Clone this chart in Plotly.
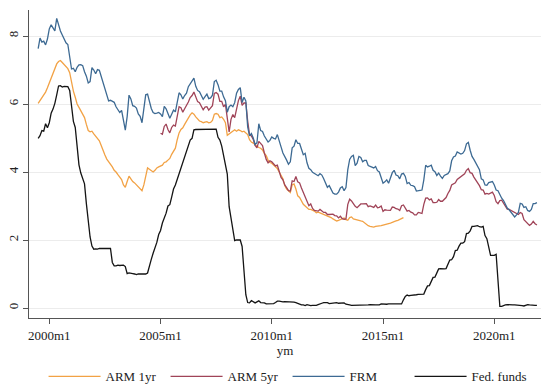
import plotly.graph_objects as go

# Monthly series, each listed from its first month onward
FED_START = (1999, 7)
FRM_START = (1999, 7)
ARM1_START = (1999, 7)
ARM5_START = (2005, 1)

fed_funds = [
    4.99, 5.07, 5.22, 5.20, 5.42, 5.30,
    5.45, 5.73, 5.85, 6.02, 6.27, 6.53, 6.54, 6.50, 6.52, 6.51, 6.51, 6.40,
    5.98, 5.49, 5.31, 4.80, 4.21, 3.97, 3.77, 3.65, 3.07, 2.49, 2.09, 1.82,
    1.73, 1.74, 1.73, 1.75, 1.75, 1.75, 1.73, 1.74, 1.75, 1.75, 1.34, 1.24,
    1.24, 1.26, 1.25, 1.26, 1.26, 1.22, 1.01, 1.03, 1.01, 1.01, 1.00, 0.98,
    1.00, 1.01, 1.00, 1.00, 1.00, 1.03, 1.26, 1.43, 1.61, 1.76, 1.93, 2.16,
    2.28, 2.50, 2.63, 2.79, 3.00, 3.04, 3.26, 3.50, 3.62, 3.78, 4.00, 4.16,
    4.29, 4.49, 4.59, 4.79, 4.94, 4.99, 5.24, 5.25, 5.25, 5.25, 5.25, 5.24,
    5.25, 5.26, 5.26, 5.25, 5.25, 5.25, 5.26, 5.02, 4.94, 4.76, 4.49, 4.24,
    3.94, 2.98, 2.61, 2.28, 1.98, 2.00, 2.01, 2.00, 1.81, 0.97, 0.39, 0.16,
    0.15, 0.22, 0.18, 0.15, 0.18, 0.21, 0.16, 0.16, 0.15, 0.12, 0.12, 0.12,
    0.11, 0.13, 0.16, 0.20, 0.20, 0.18, 0.18, 0.19, 0.19, 0.19, 0.19, 0.18,
    0.17, 0.16, 0.14, 0.10, 0.09, 0.09, 0.07, 0.10, 0.08, 0.07, 0.08, 0.07,
    0.08, 0.10, 0.13, 0.14, 0.16, 0.16, 0.16, 0.13, 0.14, 0.16, 0.16, 0.16,
    0.14, 0.15, 0.14, 0.15, 0.11, 0.09, 0.09, 0.08, 0.08, 0.09, 0.08, 0.09,
    0.07, 0.07, 0.08, 0.09, 0.09, 0.10, 0.09, 0.09, 0.09, 0.09, 0.09, 0.12,
    0.11, 0.11, 0.11, 0.12, 0.12, 0.13, 0.13, 0.14, 0.14, 0.12, 0.12, 0.24,
    0.34, 0.38, 0.36, 0.37, 0.37, 0.38, 0.39, 0.40, 0.40, 0.40, 0.41, 0.54,
    0.65, 0.66, 0.79, 0.90, 0.91, 1.04, 1.15, 1.16, 1.15, 1.15, 1.16, 1.30,
    1.41, 1.42, 1.51, 1.69, 1.70, 1.82, 1.91, 1.91, 1.95, 2.19, 2.20, 2.27,
    2.40, 2.40, 2.41, 2.42, 2.39, 2.38, 2.40, 2.13, 2.04, 1.83, 1.55, 1.55,
    1.55, 1.58, 0.65, 0.05, 0.05, 0.08, 0.09, 0.10, 0.09, 0.09, 0.09, 0.09,
    0.09, 0.08, 0.07, 0.07, 0.06, 0.08, 0.10, 0.09, 0.08, 0.08, 0.08, 0.08,
]

frm = [
    7.63, 7.94, 7.82, 7.85, 7.74, 7.91,
    8.21, 8.33, 8.24, 8.15, 8.52, 8.29, 8.15, 8.03, 7.91, 7.80, 7.75, 7.38,
    7.03, 7.05, 6.95, 7.08, 7.15, 7.16, 7.13, 6.95, 6.82, 6.62, 6.66, 7.07,
    7.00, 6.89, 7.01, 6.99, 6.81, 6.65, 6.49, 6.29, 6.09, 6.11, 6.07, 6.05,
    5.92, 5.84, 5.75, 5.81, 5.48, 5.23, 5.63, 6.26, 6.15, 5.95, 5.93, 5.88,
    5.71, 5.64, 5.45, 5.83, 6.27, 6.29, 6.06, 5.87, 5.75, 5.72, 5.73, 5.75,
    5.71, 5.63, 5.93, 5.86, 5.72, 5.58, 5.70, 5.82, 5.77, 6.07, 6.33, 6.27,
    6.15, 6.25, 6.32, 6.51, 6.60, 6.68, 6.76, 6.52, 6.40, 6.36, 6.24, 6.14,
    6.22, 6.29, 6.16, 6.18, 6.26, 6.66, 6.70, 6.57, 6.38, 6.38, 6.21, 6.10,
    5.76, 5.92, 5.97, 5.92, 6.04, 6.32, 6.43, 6.48, 6.04, 6.20, 6.09, 5.33,
    5.06, 5.13, 5.00, 4.81, 4.86, 5.42, 5.22, 5.19, 5.06, 4.95, 4.88, 4.93,
    5.03, 4.99, 4.97, 5.10, 4.89, 4.74, 4.56, 4.43, 4.35, 4.23, 4.30, 4.71,
    4.76, 4.95, 4.84, 4.84, 4.64, 4.51, 4.55, 4.27, 4.11, 4.07, 3.99, 3.96,
    3.92, 3.89, 3.95, 3.91, 3.80, 3.68, 3.55, 3.60, 3.50, 3.38, 3.35, 3.35,
    3.41, 3.53, 3.57, 3.45, 3.54, 4.07, 4.37, 4.46, 4.49, 4.19, 4.26, 4.46,
    4.43, 4.30, 4.34, 4.34, 4.19, 4.16, 4.13, 4.12, 4.16, 4.04, 4.00, 3.86,
    3.67, 3.71, 3.77, 3.67, 3.84, 3.98, 4.05, 3.91, 3.89, 3.80, 3.94, 3.96,
    3.87, 3.66, 3.69, 3.61, 3.60, 3.57, 3.44, 3.44, 3.46, 3.47, 3.77, 4.20,
    4.15, 4.17, 4.20, 4.05, 4.01, 3.90, 3.97, 3.88, 3.81, 3.90, 3.92, 3.95,
    4.03, 4.33, 4.44, 4.47, 4.59, 4.57, 4.53, 4.55, 4.63, 4.83, 4.87, 4.64,
    4.46, 4.37, 4.27, 4.14, 4.07, 3.80, 3.77, 3.62, 3.61, 3.69, 3.70, 3.72,
    3.62, 3.47, 3.45, 3.31, 3.23, 3.16, 3.02, 2.94, 2.89, 2.83, 2.77, 2.68,
    2.74, 2.81, 3.08, 3.06, 2.96, 2.98, 2.87, 2.84, 2.90, 3.07, 3.07, 3.10,
]

arm_1yr = [
    6.02, 6.10, 6.18, 6.26, 6.35, 6.48,
    6.62, 6.78, 6.90, 7.02, 7.18, 7.25, 7.28, 7.22, 7.15, 7.10, 7.04, 6.92,
    6.60, 6.38, 6.20, 6.00, 5.90, 5.80, 5.74, 5.60, 5.40, 5.22, 5.18, 5.20,
    5.12, 5.05, 5.00, 4.92, 4.78, 4.62, 4.50, 4.38, 4.30, 4.25, 4.15, 4.05,
    4.00, 3.92, 3.84, 3.78, 3.62, 3.55, 3.72, 3.88, 3.80, 3.72, 3.68, 3.62,
    3.58, 3.50, 3.45, 3.62, 3.90, 4.12, 4.08, 4.04, 4.00, 4.05, 4.12, 4.15,
    4.18, 4.20, 4.28, 4.30, 4.35, 4.40, 4.52, 4.60, 4.70, 4.95, 5.15, 5.25,
    5.30, 5.40, 5.50, 5.60, 5.68, 5.74, 5.70, 5.62, 5.55, 5.50, 5.48, 5.45,
    5.47, 5.48, 5.45, 5.46, 5.52, 5.70, 5.72, 5.70, 5.60, 5.62, 5.55, 5.45,
    5.08, 5.12, 5.18, 5.22, 5.24, 5.20, 5.24, 5.22, 5.18, 5.20, 5.16, 5.10,
    4.95, 4.88, 4.85, 4.80, 4.75, 4.72, 4.70, 4.65, 4.55, 4.48, 4.35, 4.28,
    4.26, 4.20, 4.15, 4.10, 4.00, 3.90, 3.80, 3.60, 3.50, 3.45, 3.40, 3.62,
    3.65, 3.50, 3.30, 3.25, 3.15, 3.05, 3.00, 2.95, 2.90, 2.90, 2.88, 2.85,
    2.80, 2.82, 2.80, 2.78, 2.76, 2.74, 2.70, 2.69, 2.66, 2.62, 2.58, 2.56,
    2.58, 2.60, 2.62, 2.65, 2.60, 2.58, 2.66, 2.68, 2.62, 2.60, 2.58, 2.58,
    2.56, 2.55, 2.50, 2.45, 2.42, 2.40, 2.38, 2.38, 2.40, 2.40, 2.42, 2.42,
    2.44, 2.45, 2.46, 2.48, 2.50, 2.52, 2.55, 2.56, 2.58, 2.60, 2.62, 2.66,
]

arm_5yr = [
    5.14, 5.11, 5.34, 5.41, 5.25, 5.15, 5.31, 5.38, 5.35, 5.62, 5.92, 5.89,
    5.76, 5.86, 5.95, 6.06, 6.19, 6.25, 6.35, 6.22, 6.07, 6.04, 5.95, 5.83,
    5.91, 5.92, 5.82, 5.90, 5.95, 6.31, 6.34, 6.29, 6.08, 6.08, 5.92, 5.99,
    5.52, 5.18, 5.55, 5.69, 5.60, 5.85, 6.10, 6.23, 5.96, 6.03, 6.03, 5.50,
    5.10, 5.06, 4.96, 4.78, 4.71, 4.90, 4.84, 4.78, 4.56, 4.37, 4.27, 4.33,
    4.30, 4.24, 4.18, 4.20, 3.98, 3.84, 3.77, 3.62, 3.54, 3.45, 3.44, 3.74,
    3.72, 3.87, 3.71, 3.68, 3.53, 3.39, 3.27, 3.11, 3.01, 3.06, 2.93, 2.87,
    2.87, 2.85, 2.90, 2.84, 2.81, 2.81, 2.75, 2.75, 2.76, 2.76, 2.72, 2.71,
    2.65, 2.70, 2.63, 2.61, 2.62, 3.05, 3.20, 3.15, 3.07, 2.99, 2.95, 3.00,
    3.06, 3.06, 3.07, 3.07, 2.98, 3.00, 2.98, 2.96, 3.03, 2.95, 2.96, 3.00,
    2.84, 2.89, 2.88, 2.88, 2.87, 2.97, 2.96, 2.92, 2.91, 2.87, 3.01, 3.03,
    2.95, 2.85, 2.87, 2.82, 2.80, 2.74, 2.74, 2.81, 2.80, 2.78, 3.05, 3.23,
    3.24, 3.18, 3.21, 3.10, 3.10, 3.11, 3.19, 3.14, 3.14, 3.21, 3.25, 3.37,
    3.46, 3.62, 3.64, 3.68, 3.78, 3.82, 3.87, 3.92, 3.95, 4.05, 4.10, 3.98,
    3.96, 3.85, 3.77, 3.68, 3.60, 3.48, 3.47, 3.35, 3.37, 3.35, 3.39, 3.41,
    3.31, 3.13, 3.07, 3.16, 3.17, 3.08, 2.98, 2.91, 2.90, 2.87, 2.83, 2.79,
    2.77, 2.75, 2.81, 2.78, 2.60, 2.54, 2.48, 2.43, 2.47, 2.55, 2.48, 2.44,
]

tick_years = [2000, 2005, 2010, 2015, 2020]
tick_labels = [f"{y}m1" for y in tick_years]
y_ticks = [0, 2, 4, 6, 8]

COLORS = {
    "ARM 1yr": "#f2a245",
    "ARM 5yr": "#a04458",
    "FRM": "#3d6a93",
    "Fed. funds": "#141414",
}


def month_axis(start, n):
    """Decimal-year positions for n consecutive months from (year, month)."""
    y0, m0 = start
    return [y0 + (m0 - 1 + i) / 12 for i in range(n)]


series = [
    ("ARM 1yr", ARM1_START, arm_1yr),
    ("ARM 5yr", ARM5_START, arm_5yr),
    ("FRM", FRM_START, frm),
    ("Fed. funds", FED_START, fed_funds),
]

FONT = "Liberation Serif"
TEXT = "#222222"

fig = go.Figure()
for name, start, vals in series:
    fig.add_trace(go.Scatter(
        x=month_axis(start, len(vals)), y=vals, mode="lines", name=name,
        line=dict(color=COLORS[name], width=1.3),
    ))

fig.update_layout(
    width=544, height=386,
    margin=dict(l=29, r=3, t=10, b=68),
    paper_bgcolor="white", plot_bgcolor="white",
    font=dict(family=FONT, size=13, color=TEXT),
    showlegend=True,
    legend=dict(
        orientation="h", x=0.505, xanchor="center",
        yref="container", y=0.025, yanchor="middle",
        font=dict(family=FONT, size=13, color=TEXT),
        itemwidth=52, entrywidth=55, entrywidthmode="pixels",
        tracegroupgap=0,
        bgcolor="rgba(0,0,0,0)",
    ),
)

fig.update_xaxes(
    range=[1999.088, 2022.10],
    tickmode="array", tickvals=tick_years, ticktext=tick_labels,
    ticks="outside", ticklen=5, tickcolor="#555555", tickwidth=1,
    showline=True, linecolor="#555555", linewidth=1,
    showgrid=False, zeroline=False,
    title=dict(text="ym", font=dict(family=FONT, size=13, color=TEXT), standoff=2),
    tickfont=dict(family=FONT, size=13, color=TEXT),
)

fig.update_yaxes(
    range=[-0.294, 8.765],
    tickmode="array", tickvals=y_ticks, ticktext=[str(v) for v in y_ticks],
    tickangle=-90,
    ticks="outside", ticklen=5, tickcolor="#555555", tickwidth=1,
    showline=True, linecolor="#555555", linewidth=1,
    showgrid=True, gridcolor="#ececec", gridwidth=1, zeroline=False,
    tickfont=dict(family=FONT, size=13, color=TEXT),
)

fig.write_html("out.html")
